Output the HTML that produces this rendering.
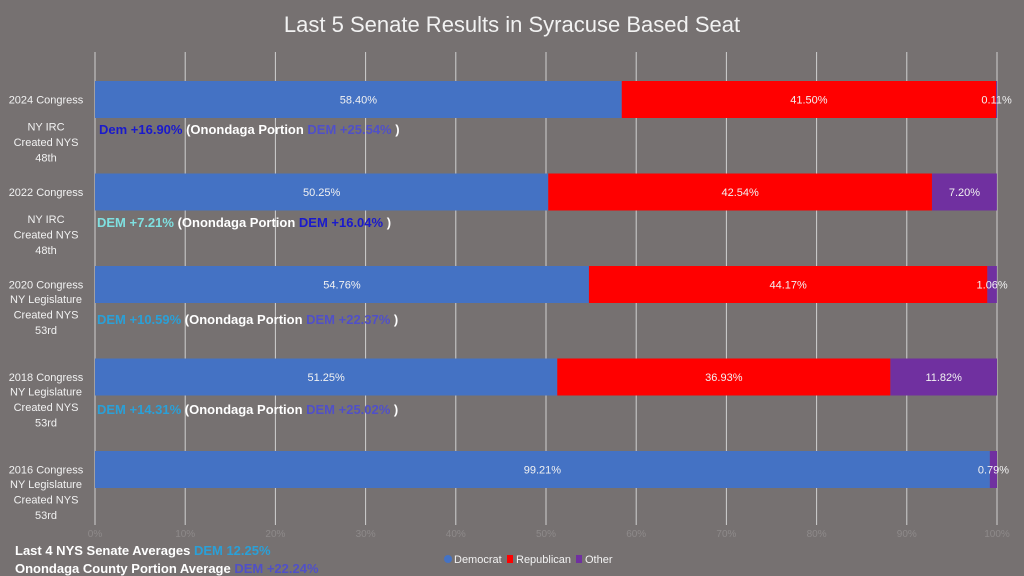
<!DOCTYPE html>
<html><head><meta charset="utf-8"><style>
body{margin:0;background:#767171;}
svg{display:block;font-family:"Liberation Sans",sans-serif;}
</style></head><body>
<svg width="1024" height="576" viewBox="0 0 1024 576">
<rect width="1024" height="576" fill="#767171"/>
<text x="512" y="32" text-anchor="middle" font-size="22" fill="#f2f2f2">Last 5 Senate Results in Syracuse Based Seat</text>
<g id="grid"></g><g id="bars"></g><g id="cats"></g><g id="ticks"></g>
<g font-size="13" font-weight="bold">
<text x="99" y="134" fill="#ffffff"><tspan fill="#1a1acc">Dem +16.90%</tspan> (Onondaga Portion <tspan fill="#5050c8">DEM +25.54%</tspan> )</text>
<text x="97" y="227" fill="#ffffff"><tspan fill="#7fe0e0">DEM +7.21%</tspan>  (Onondaga Portion <tspan fill="#1a1acc">DEM +16.04%</tspan> )</text>
<text x="97" y="324" fill="#ffffff"><tspan fill="#2aa0d8">DEM +10.59%</tspan> (Onondaga Portion <tspan fill="#5050c8">DEM +22.37%</tspan> )</text>
<text x="97" y="414" fill="#ffffff"><tspan fill="#2aa0d8">DEM +14.31%</tspan> (Onondaga Portion <tspan fill="#5050c8">DEM +25.02%</tspan> )</text>
<text x="15" y="555" fill="#ffffff">Last 4 NYS Senate Averages <tspan fill="#2aa0d8">DEM 12.25%</tspan></text>
<text x="15" y="573" fill="#ffffff">Onondaga County Portion Average <tspan fill="#5050c8">DEM +22.24%</tspan></text>
</g>
<g font-size="11" fill="#f2f2f2">
<circle cx="448" cy="559" r="4" fill="#4472c4"/>
<text x="454" y="563">Democrat</text>
<rect x="507" y="555" width="6" height="8" fill="#ff0000"/>
<text x="516" y="563">Republican</text>
<rect x="576" y="555" width="6" height="8" fill="#7030a0"/>
<text x="585" y="563">Other</text>
</g>
</svg>
<script>
const categories=["2024 Congress","2022 Congress","2020 Congress","2018 Congress","2016 Congress"];
const subLabels=[["NY IRC","Created NYS","48th"],["NY IRC","Created NYS","48th"],["NY Legislature","Created NYS","53rd"],["NY Legislature","Created NYS","53rd"],["NY Legislature","Created NYS","53rd"]];
const democrat=[58.40,50.25,54.76,51.25,99.21];
const republican=[41.50,42.54,44.17,36.93,0];
const other=[0.11,7.20,1.06,11.82,0.79];
const tickValues=[0,10,20,30,40,50,60,70,80,90,100];
const NS="http://www.w3.org/2000/svg";
const x0=95,x1=997,gTop=52,gBot=525;
const xs=v=>x0+(x1-x0)*v/100;
const rowY=i=>81+i*92.5;
const barH=37;
function mk(t,a,p){const e=document.createElementNS(NS,t);for(const k in a)e.setAttribute(k,a[k]);p.appendChild(e);return e;}
const grid=document.getElementById('grid'),bars=document.getElementById('bars'),cats=document.getElementById('cats'),ticks=document.getElementById('ticks');
tickValues.forEach(v=>{
 const l=mk('line',{x1:xs(v),x2:xs(v),y1:gTop,y2:gBot,stroke:'#d0d0d0','stroke-width':1},grid);
 
 
 const t=mk('text',{x:xs(v),y:537,'text-anchor':'middle','font-size':10,fill:'#8e8a8a'},ticks);
 t.textContent=v+'%';
 
 
});
const series=[[democrat,'#4472c4','democrat'],[republican,'#ff0000','republican'],[other,'#7030a0','other']];
categories.forEach((c,i)=>{
 let acc=0;const y=rowY(i);
 series.forEach(([arr,col,nm])=>{
  const v=arr[i];
  if(v>0){
   const r=mk('rect',{x:xs(acc),y:y,width:xs(acc+v)-xs(acc),height:barH,fill:col},bars);
   
   
   let cx=(xs(acc)+xs(acc+v))/2;
   if(xs(acc+v)-xs(acc)<30)cx=Math.min(cx,1000);
   const t=mk('text',{x:cx,y:y+barH/2+4,'text-anchor':'middle','font-size':11,fill:'#f2f2f2'},bars);
   t.textContent=v.toFixed(2)+'%';
   
   
  }
  acc+=v;
 });
 const cy=y+barH/2+4;
 const t=mk('text',{x:46,y:cy,'text-anchor':'middle','font-size':11,fill:'#f2f2f2'},cats);
 t.textContent=c;
 
 
 const off=(i>=2)?14.5:19;
 subLabels[i].forEach((s,j)=>{
  const u=mk('text',{x:46,y:cy+off+(i>=2?0:8)+j*15.5,'text-anchor':'middle','font-size':11,fill:'#f2f2f2'},cats);
  u.textContent=s;
  
  
 });
});
</script>
</body></html>
